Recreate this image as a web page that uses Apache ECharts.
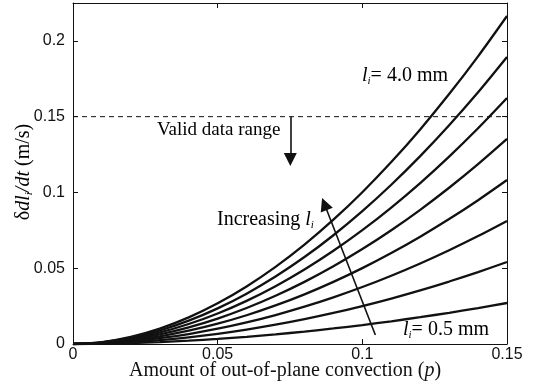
<!DOCTYPE html>
<html><head><meta charset="utf-8">
<script src="https://cdn.jsdelivr.net/npm/echarts@6/dist/echarts.min.js"></script>
<style>html,body{margin:0;padding:0;background:#fff}#c{width:535px;height:385px}</style>
</head><body><div id="c"></div>
<script>
// x values: amount of out-of-plane convection p
const pValues = [0, 0.01, 0.02, 0.03, 0.04, 0.05, 0.06, 0.07, 0.08, 0.09, 0.10, 0.11, 0.12, 0.13, 0.14, 0.15];
// δdl_i/dt (m/s) for each l_i
const li05 = [0, 0.00016, 0.00059, 0.00127, 0.0022, 0.00335, 0.00474, 0.00636, 0.00819, 0.01025, 0.01252, 0.0150, 0.0177, 0.02061, 0.02373, 0.02705];
const li10 = [0, 0.00032, 0.00118, 0.00254, 0.00439, 0.00671, 0.00949, 0.01272, 0.01639, 0.0205, 0.02504, 0.03001, 0.0354, 0.04122, 0.04745, 0.0541];
const li15 = [0, 0.00047, 0.00177, 0.00382, 0.00659, 0.01007, 0.01424, 0.01909, 0.0246, 0.03077, 0.03758, 0.04504, 0.05314, 0.06187, 0.07122, 0.0812];
const li20 = [0, 0.00063, 0.00236, 0.00509, 0.00879, 0.01342, 0.01898, 0.02544, 0.03277, 0.041, 0.05007, 0.06002, 0.07081, 0.08245, 0.0949, 0.1082];
const li25 = [0, 0.00079, 0.00295, 0.00636, 0.01099, 0.01678, 0.02373, 0.03181, 0.04098, 0.05127, 0.06262, 0.07505, 0.08854, 0.1031, 0.11867, 0.1353];
const li30 = [0, 0.00095, 0.00354, 0.00763, 0.01318, 0.02013, 0.02847, 0.03816, 0.04916, 0.0615, 0.07511, 0.09003, 0.10621, 0.12367, 0.14235, 0.1623];
const li35 = [0, 0.0011, 0.00413, 0.0089, 0.01538, 0.02349, 0.03322, 0.04453, 0.05737, 0.07176, 0.08765, 0.10506, 0.12394, 0.14432, 0.16612, 0.1894];
const li40 = [0, 0.00126, 0.00472, 0.01017, 0.01757, 0.02683, 0.03796, 0.05088, 0.06555, 0.082, 0.10015, 0.12004, 0.14161, 0.1649, 0.1898, 0.2164];
const curveNames = ['0.5 mm', '1.0 mm', '1.5 mm', '2.0 mm', '2.5 mm', '3.0 mm', '3.5 mm', '4.0 mm'];
const curves = [li05, li10, li15, li20, li25, li30, li35, li40];
// valid data range limit
const validLimit = 0.15;
// axis ranges
const xMin = 0, xMax = 0.15, xStep = 0.05;
const yMin = 0, yMax = 0.225, yStep = 0.05;
// annotation arrows (data coordinates: tail, head centre)
const validArrow = [[0.0751, 0.15], [0.0751, 0.1217]];
const increasingArrow = [[0.1045, 0.0059], [0.0869, 0.0924]];

const SERIF = "'Liberation Serif','Times New Roman',serif";
const SANS = "'Liberation Sans',Arial,sans-serif";
const INK = '#111';

const chart = echarts.init(document.getElementById('c'), null, {renderer: 'canvas'});

const axisCommon = {
  type: 'value',
  axisLine: {show: true, onZero: false, lineStyle: {color: INK, width: 1}},
  axisTick: {show: true, inside: true, length: 5, lineStyle: {color: INK}},
  splitLine: {show: false}
};

const lineSeries = curves.map((vals, i) => ({
  name: curveNames[i],
  type: 'line',
  data: pValues.map((p, j) => [p, vals[j]]),
  showSymbol: false,
  smooth: 0.3,
  lineStyle: {color: INK, width: 2.3},
  z: 3,
  silent: true
}));

const FS = 20;
const rich = {
  n: {fontFamily: SERIF, fontSize: FS, color: INK, lineHeight: 24},
  it: {fontFamily: SERIF, fontSize: FS, fontStyle: 'italic', color: INK, lineHeight: 24},
  sub: {fontFamily: SERIF, fontSize: 11, fontStyle: 'italic', color: INK, lineHeight: 11, padding: [12, 0, 0, 0], verticalAlign: 'top'}
};
const rich19 = {
  n: {fontFamily: SERIF, fontSize: 19, color: INK, lineHeight: 24}
};

chart.setOption({
  animation: false,
  backgroundColor: '#fff',
  grid: {left: 73, right: 28, top: 3, bottom: 41, containLabel: false, outerBoundsMode: 'none'},
  xAxis: [
    Object.assign({}, axisCommon, {
      min: xMin, max: xMax, interval: xStep, position: 'bottom',
      axisLabel: {color: INK, fontFamily: SANS, fontSize: 16, margin: 3},
      name: 'Amount of out-of-plane convection ({it|p})',
      nameLocation: 'middle', nameGap: 17, nameMoveOverlap: false,
      nameTextStyle: {fontFamily: SERIF, fontSize: 20, color: INK, padding: [0, 10, 0, 0],
        rich: {it: {fontFamily: SERIF, fontSize: 20, fontStyle: 'italic', color: INK}}}
    }),
    Object.assign({}, axisCommon, {
      min: xMin, max: xMax, interval: xStep, position: 'top',
      axisLabel: {show: false}
    })
  ],
  yAxis: [
    Object.assign({}, axisCommon, {
      min: yMin, max: yMax, interval: yStep, position: 'left',
      axisLabel: {color: INK, fontFamily: SANS, fontSize: 16, margin: 8, showMaxLabel: false}
    }),
    Object.assign({}, axisCommon, {
      min: yMin, max: yMax, interval: yStep, position: 'right',
      axisLabel: {show: false}
    })
  ],
  series: lineSeries.concat([{
    name: 'valid',
    type: 'line',
    data: [[xMin, validLimit], [xMax, validLimit]],
    showSymbol: false,
    lineStyle: {color: INK, width: 1, type: [5, 4]},
    silent: true,
    z: 2,
    markLine: {
      silent: true,
      symbol: ['none', 'triangle'],
      symbolSize: 13,
      label: {show: false},
      lineStyle: {color: INK, width: 1.6, type: 'solid'},
      data: [
        [{coord: validArrow[0]}, {coord: validArrow[1]}],
        [{coord: increasingArrow[0]}, {coord: increasingArrow[1]}]
      ],
      animation: false
    }
  }]),
  graphic: [
    {type: 'text', left: 362, top: 64, style: {text: '{it|l}{sub|i}{n|= 4.0 mm}', rich: rich}},
    {type: 'text', left: 403, top: 318, style: {text: '{it|l}{sub|i}{n|= 0.5 mm}', rich: rich}},
    {type: 'text', left: 157, top: 121, style: {text: '{n|Valid data range}', rich: rich19}},
    {type: 'text', left: 217, top: 208, style: {text: '{n|Increasing }{it|l}{sub|i}', rich: rich}},
    {type: 'text', x: 24, y: 172, rotation: Math.PI / 2,
      style: {text: '{n|δ}{it|dl}{sub|i}{it|/dt}{n| (m/s)}', rich: rich, align: 'center', verticalAlign: 'middle'}}
  ]
});
</script></body></html>
